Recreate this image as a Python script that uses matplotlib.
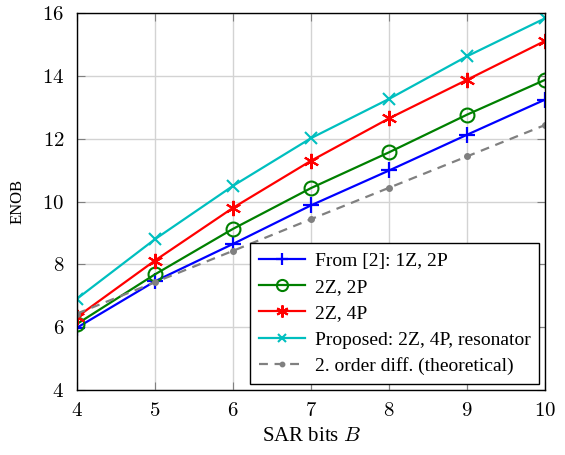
import matplotlib.pyplot as plt
import numpy as np

plt.rcParams['font.family'] = ['Liberation Serif', 'DejaVu Serif']
plt.rcParams['mathtext.fontset'] = 'cm'

bits = [4, 5, 6, 7, 8, 9, 10]
from_ref = [5.98, 7.46, 8.65, 9.88, 10.99, 12.13, 13.25]
zz_2p = [6.1, 7.68, 9.13, 10.43, 11.57, 12.77, 13.88]
zz_4p = [6.32, 8.12, 9.8, 11.3, 12.65, 13.88, 15.12]
proposed = [6.9, 8.8, 10.5, 12.02, 13.27, 14.63, 15.84]
theory = [6.43, 7.43, 8.43, 9.44, 10.44, 11.44, 12.44]

fig = plt.figure(figsize=(5.65, 4.55), dpi=100)
ax = fig.add_axes([0.136, 0.143, 0.829, 0.828])

ax.plot(bits, from_ref, '-', color='blue', marker='+', ms=11, mew=1.6, lw=1.6,
        label='From [2]: 1Z, 2P')
ax.plot(bits, zz_2p, '-', color='green', marker='o', ms=10, mfc='none', mew=1.5, lw=1.6,
        label='2Z, 2P')
ax.plot(bits, zz_4p, '-', color='red', marker=(6, 2, 0), ms=11, mew=1.5, lw=1.6,
        label='2Z, 4P')
ax.plot(bits, proposed, '-', color='#00bfbf', marker='x', ms=8, mew=1.5, lw=1.6,
        label='Proposed: 2Z, 4P, resonator')
ax.plot(bits, theory, '--', color='gray', marker='.', ms=8, lw=1.6, dashes=(4, 3),
        label='2. order diff. (theoretical)')

ax.set_xlim(4, 10)
ax.set_ylim(4, 16)
ax.set_xticks(bits)
ax.set_yticks(range(4, 17, 2))
ax.set_xticklabels([f'${b}$' for b in bits], fontsize=15)
ax.set_yticklabels([f'${v}$' for v in range(4, 17, 2)], fontsize=15)
ax.grid(True, color='#d3d3d3', lw=1)
ax.set_axisbelow(True)
ax.tick_params(direction='in', top=True, right=True, color='gray', length=6)
ax.tick_params(axis='x', pad=9)
ax.tick_params(axis='y', pad=9)
for s in ax.spines.values():
    s.set_linewidth(1.0)

ax.set_xlabel('SAR bits $B$', fontsize=15, labelpad=4)
ax.set_ylabel('ENOB', fontsize=12, labelpad=12)

leg = ax.legend(loc='lower right', fontsize=14, fancybox=False, framealpha=1,
                edgecolor='black', markerscale=0.8, handlelength=2.4,
                borderaxespad=0.3, labelspacing=0.45, numpoints=1,
                handletextpad=0.5, borderpad=0.45)
leg.get_frame().set_linewidth(1.0)

plt.savefig('out.png', dpi=100)
